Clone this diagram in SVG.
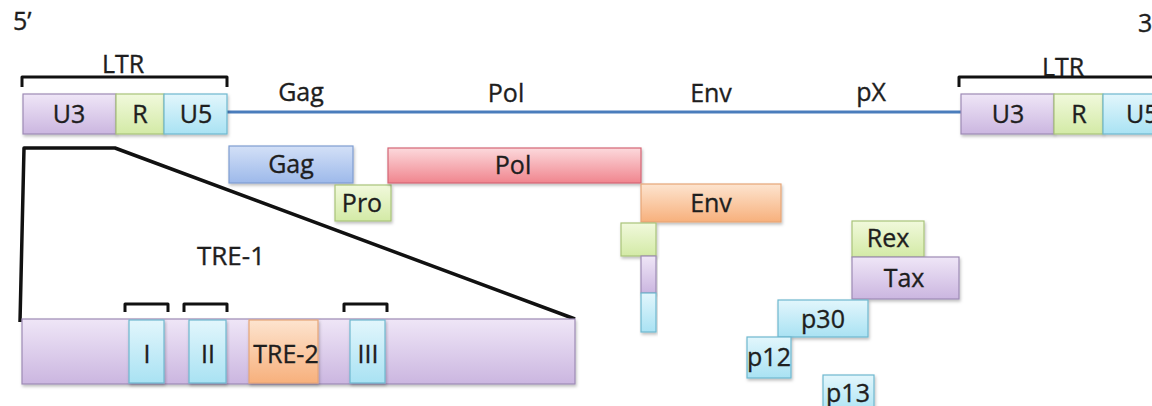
<svg xmlns="http://www.w3.org/2000/svg" width="1152" height="406" viewBox="0 0 1152 406">
  <defs>
    <linearGradient id="gPurple" x1="0" y1="0" x2="0" y2="1">
      <stop offset="0" stop-color="#efe6f7"/>
      <stop offset="1" stop-color="#cbb6e0"/>
    </linearGradient>
    <linearGradient id="gGreen" x1="0" y1="0" x2="0" y2="1">
      <stop offset="0" stop-color="#f1f9dc"/>
      <stop offset="1" stop-color="#d3eaa6"/>
    </linearGradient>
    <linearGradient id="gCyan" x1="0" y1="0" x2="0" y2="1">
      <stop offset="0" stop-color="#e2f6fc"/>
      <stop offset="1" stop-color="#a9e2f3"/>
    </linearGradient>
    <linearGradient id="gBlue" x1="0" y1="0" x2="0" y2="1">
      <stop offset="0" stop-color="#d3e0f7"/>
      <stop offset="1" stop-color="#9db9ea"/>
    </linearGradient>
    <linearGradient id="gPink" x1="0" y1="0" x2="0" y2="1">
      <stop offset="0" stop-color="#fcd9dc"/>
      <stop offset="1" stop-color="#f0858e"/>
    </linearGradient>
    <linearGradient id="gOrange" x1="0" y1="0" x2="0" y2="1">
      <stop offset="0" stop-color="#fde4cf"/>
      <stop offset="1" stop-color="#f7b07c"/>
    </linearGradient>
    <filter id="shadow" x="-10%" y="-10%" width="120%" height="130%">
      <feDropShadow dx="1" dy="2" stdDeviation="1.5" flood-color="#000" flood-opacity="0.25"/>
    </filter>
  </defs>
  <style>
    text { font-family: "Open Sans", "Liberation Sans", sans-serif; font-size: 25px; fill: #1e1e1e; stroke: #1e1e1e; stroke-width: 0.35px; }
    .c { text-anchor: middle; }
    .box { filter: url(#shadow); stroke-width: 1.2; }
    .purple { fill: url(#gPurple); stroke: #9d8ab5; }
    .green { fill: url(#gGreen); stroke: #a9c47a; }
    .cyan { fill: url(#gCyan); stroke: #6eb8cf; }
    .blue { fill: url(#gBlue); stroke: #7f9dd1; }
    .pink { fill: url(#gPink); stroke: #d46675; }
    .orange { fill: url(#gOrange); stroke: #e6a677; }
    .ink { fill: none; stroke: #111; stroke-width: 3.5; stroke-linejoin: round; }
    .bracket { fill: none; stroke: #111; stroke-width: 3; stroke-linejoin: round; }
  </style>

  <rect width="1152" height="406" fill="#fff"/>

  <!-- strand ends -->
  <text x="13" y="30">5’</text>
  <text x="1138" y="32">3’</text>

  <!-- connectors: genome backbone and zoom outline -->
  <g id="connectors">
    <line x1="227" y1="112" x2="961" y2="112" stroke="#4a7dbc" stroke-width="3"/>
    <path class="ink" d="M20,322 L24,148 L115,148 L575,319"/>
  </g>

  <!-- region labels on the backbone -->
  <g id="genome-labels">
    <text class="c" x="301" y="101">Gag</text>
    <text class="c" x="506" y="102">Pol</text>
    <text class="c" x="711" y="102">Env</text>
    <text class="c" x="871" y="101">pX</text>
  </g>

  <!-- 5' long terminal repeat -->
  <g id="ltr-5">
    <path class="bracket" d="M22,87 V77 H227 V87"/>
    <text class="c" x="123" y="73">LTR</text>
    <rect class="box purple" x="23" y="94" width="93" height="40"/>
    <rect class="box green" x="116" y="94" width="48" height="40"/>
    <rect class="box cyan" x="164" y="94" width="63" height="40"/>
    <text class="c" x="69" y="123">U3</text>
    <text class="c" x="140" y="123">R</text>
    <text class="c" x="196" y="123">U5</text>
  </g>

  <!-- 3' long terminal repeat -->
  <g id="ltr-3">
    <path class="bracket" d="M959,87 V77 H1160"/>
    <text class="c" x="1063" y="76">LTR</text>
    <rect class="box purple" x="961" y="94" width="93" height="40"/>
    <rect class="box green" x="1054" y="94" width="49" height="40"/>
    <rect class="box cyan" x="1103" y="94" width="60" height="40"/>
    <text class="c" x="1008" y="123">U3</text>
    <text class="c" x="1079" y="123">R</text>
    <text x="1126" y="123">U5</text>
  </g>

  <!-- gene products -->
  <g id="gag">
    <rect class="box blue" x="229" y="146" width="124" height="37"/>
    <text class="c" x="291" y="173">Gag</text>
  </g>
  <g id="pro">
    <rect class="box green" x="335" y="185" width="56" height="36"/>
    <text class="c" x="362" y="212">Pro</text>
  </g>
  <g id="pol">
    <rect class="box pink" x="388" y="148" width="253" height="35"/>
    <text class="c" x="513" y="174">Pol</text>
  </g>
  <g id="env">
    <rect class="box orange" x="641" y="184" width="140" height="38"/>
    <text class="c" x="711" y="212">Env</text>
  </g>
  <g id="rex-exons">
    <rect class="box green" x="621" y="223" width="35" height="33"/>
    <rect class="box purple" x="641" y="256" width="15" height="37"/>
    <rect class="box cyan" x="641" y="293" width="15" height="39"/>
  </g>
  <g id="rex">
    <rect class="box green" x="852" y="221" width="72" height="36"/>
    <text class="c" x="888" y="247">Rex</text>
  </g>
  <g id="tax">
    <rect class="box purple" x="852" y="257" width="107" height="42"/>
    <text class="c" x="904" y="287">Tax</text>
  </g>
  <g id="p30">
    <rect class="box cyan" x="778" y="300" width="90" height="37"/>
    <text class="c" x="823" y="328">p30</text>
  </g>
  <g id="p12">
    <rect class="box cyan" x="747" y="337" width="44" height="41"/>
    <text class="c" x="769" y="366">p12</text>
  </g>
  <g id="p13">
    <rect class="box cyan" x="823" y="375" width="51" height="40"/>
    <text class="c" x="848" y="402">p13</text>
  </g>

  <!-- enlarged U3 region with Tax responsive elements -->
  <g id="tre-1">
    <text class="c" x="231" y="265" style="font-size:26px">TRE-1</text>
    <rect class="box purple" x="22" y="319" width="553" height="65"/>
    <path class="bracket" d="M125,312 V304 H168 V312"/>
    <path class="bracket" d="M184,312 V304 H227 V312"/>
    <path class="bracket" d="M344,312 V304 H387 V312"/>
  </g>
  <g id="element-i">
    <rect class="box cyan" x="129" y="320" width="35" height="63"/>
    <text class="c" x="147" y="363">I</text>
  </g>
  <g id="element-ii">
    <rect class="box cyan" x="189" y="320" width="37" height="63"/>
    <text class="c" x="208" y="363">II</text>
  </g>
  <g id="tre-2">
    <rect class="box orange" x="249" y="320" width="69" height="63"/>
    <text class="c" x="286" y="363">TRE-2</text>
  </g>
  <g id="element-iii">
    <rect class="box cyan" x="350" y="320" width="35" height="63"/>
    <text class="c" x="368" y="363">III</text>
  </g>
</svg>
